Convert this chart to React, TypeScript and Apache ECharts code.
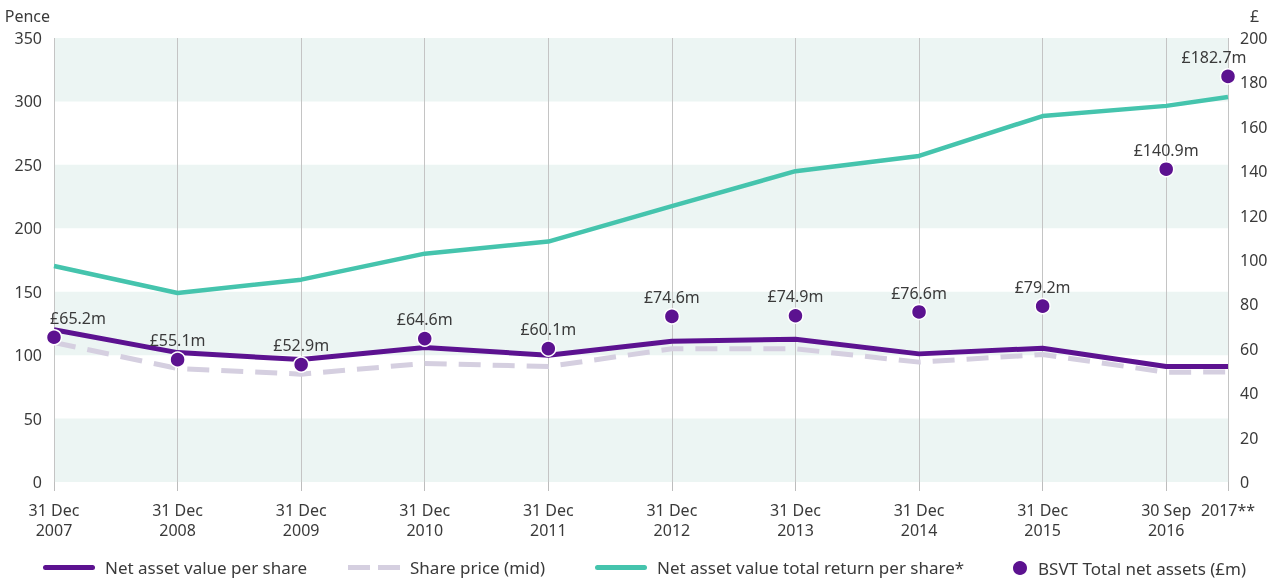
import React, { useEffect, useRef } from "react";
import * as echarts from "echarts";

const categories = [
  "31 Dec\n2007", "31 Dec\n2008", "31 Dec\n2009", "31 Dec\n2010", "31 Dec\n2011",
  "31 Dec\n2012", "31 Dec\n2013", "31 Dec\n2014", "31 Dec\n2015", "30 Sep\n2016", "2017**",
];
const xPos = [0, 1, 2, 3, 4, 5, 6, 7, 8, 9, 9.5];
const navPerShare = [120, 102, 96.5, 106, 100, 111, 112.5, 101, 105.5, 91, 91];
const sharePrice = [110, 89.5, 85, 93.5, 91, 105, 105, 94.5, 100.5, 86.5, 86.7];
const navTotalReturn = [170.3, 149, 159.5, 180, 189.5, 217.5, 245, 257, 288.5, 296.5, 303.5];
const totalNetAssets = [65.2, 55.1, 52.9, 64.6, 60.1, 74.6, 74.9, 76.6, 79.2, 140.9, 182.7];
const leftTicks = { min: 0, max: 350, interval: 50 };
const rightTicks = { min: 0, max: 200, interval: 20 };

const PURPLE = "#5c1290";
const TEAL = "#45c4ad";
const LAVENDER = "#d5cfe0";
const TEXT = "#3a3a3a";
const FONT = "'Noto Sans', sans-serif";

const pairs = (vals: number[]) => vals.map((v, i) => [xPos[i], v]);

export default function App() {
  const ref = useRef<HTMLDivElement>(null);
  useEffect(() => {
    if (!ref.current) return;
    const chart = echarts.init(ref.current, undefined, { renderer: "svg" });
    const labelFor = (v: number) => {
      const i = xPos.indexOf(v);
      return i >= 0 ? categories[i] : "";
    };
    const legendBase = {
      top: 554,
      itemHeight: 5,
      itemWidth: 52,
      textStyle: { fontFamily: FONT, fontSize: 17, color: TEXT, padding: [0, 0, 0, 5] },
      selectedMode: false,
    };
    const solidIcon = "path://M2.5,0H49.5A2.5,2.5,0,0,1,49.5,5H2.5A2.5,2.5,0,0,1,2.5,0Z";
    const dashIcon = "path://M0,0H22V5H0Z M30,0H52V5H30Z";
    chart.setOption({
      animation: false,
      textStyle: { fontFamily: FONT },
      grid: { left: 54, right: 52, top: 38, bottom: 97 },
      legend: [
        { ...legendBase, left: 38, data: [{ name: "Net asset value per share", icon: solidIcon }] },
        { ...legendBase, left: 343, data: [{ name: "Share price (mid)", icon: dashIcon }] },
        { ...legendBase, left: 590, data: [{ name: "Net asset value total return per share*", icon: solidIcon }] },
        { ...legendBase, left: 1006, itemWidth: 16, itemHeight: 16, data: [{ name: "BSVT Total net assets (£m)", icon: "circle" }] },
      ],
      xAxis: {
        type: "value",
        min: 0,
        max: 9.5,
        offset: 7,
        axisLine: { show: false },
        axisTick: { show: true, customValues: xPos, length: 9, lineStyle: { color: "#bdbdbd" } },
        axisLabel: {
          customValues: xPos,
          formatter: (v: number) => labelFor(v),
          color: TEXT,
          fontSize: 16,
          lineHeight: 20,
          margin: 11,
          fontFamily: FONT,
        },
        splitLine: { show: false },
      },
      yAxis: [
        {
          type: "value",
          ...leftTicks,
          name: "Pence",
          nameLocation: "end",
          nameGap: 14,
          nameTextStyle: { color: TEXT, fontSize: 16, align: "right", padding: [0, 4, 0, 0], fontFamily: FONT },
          axisLine: { show: false },
          axisTick: { show: false },
          axisLabel: { color: TEXT, fontSize: 16, margin: 12, fontFamily: FONT },
          splitLine: { show: false },
          splitArea: { show: true, areaStyle: { color: ["#ecf5f3", "rgba(255,255,255,0)"] } },
        },
        {
          type: "value",
          ...rightTicks,
          name: "£",
          nameLocation: "end",
          nameGap: 14,
          nameTextStyle: { color: TEXT, fontSize: 16, align: "left", padding: [0, 0, 0, 22], fontFamily: FONT },
          axisLine: { show: false },
          axisTick: { show: false },
          axisLabel: { color: TEXT, fontSize: 16, margin: 12, fontFamily: FONT },
          splitLine: { show: false },
        },
      ],
      series: [
        {
          name: "Share price (mid)",
          type: "line",
          z: 3,
          data: pairs(sharePrice),
          symbol: "none",
          lineStyle: { color: LAVENDER, width: 5, type: [22, 12] },
          itemStyle: { color: LAVENDER },
          markLine: {
            z: 1,
            silent: true,
            symbol: "none",
            label: { show: false },
            lineStyle: { color: "#c4c4c4", width: 1, type: "solid" },
            data: xPos.map((x) => ({ xAxis: x })),
          },
        },
        {
          name: "Net asset value total return per share*",
          type: "line",
          z: 3,
          data: pairs(navTotalReturn),
          symbol: "none",
          lineStyle: { color: TEAL, width: 4.5 },
          itemStyle: { color: TEAL },
        },
        {
          name: "Net asset value per share",
          type: "line",
          z: 3,
          data: pairs(navPerShare),
          symbol: "none",
          lineStyle: { color: PURPLE, width: 5 },
          itemStyle: { color: PURPLE },
        },
        {
          name: "BSVT Total net assets (£m)",
          type: "scatter",
          z: 4,
          yAxisIndex: 1,
          clip: false,
          symbolSize: 15,
          itemStyle: { color: PURPLE, opacity: 1, borderColor: "#ffffff", borderWidth: 1.5 },
          label: {
            show: true,
            position: "top",
            distance: 3,
            color: TEXT,
            fontSize: 16,
            fontFamily: FONT,
            formatter: (p: any) => "£" + p.value[1].toFixed(1) + "m",
          },
          data: totalNetAssets.map((v, i) => {
            const d: any = { value: [xPos[i], v] };
            if (i === 0) d.label = { offset: [24, 0] };
            if (i === totalNetAssets.length - 1) d.label = { offset: [-14, 0] };
            return d;
          }),
        },
      ],
    });
    return () => chart.dispose();
  }, []);
  return <div ref={ref} style={{ position: "fixed", left: 0, top: 0, width: 1280, height: 579 }} />;
}
